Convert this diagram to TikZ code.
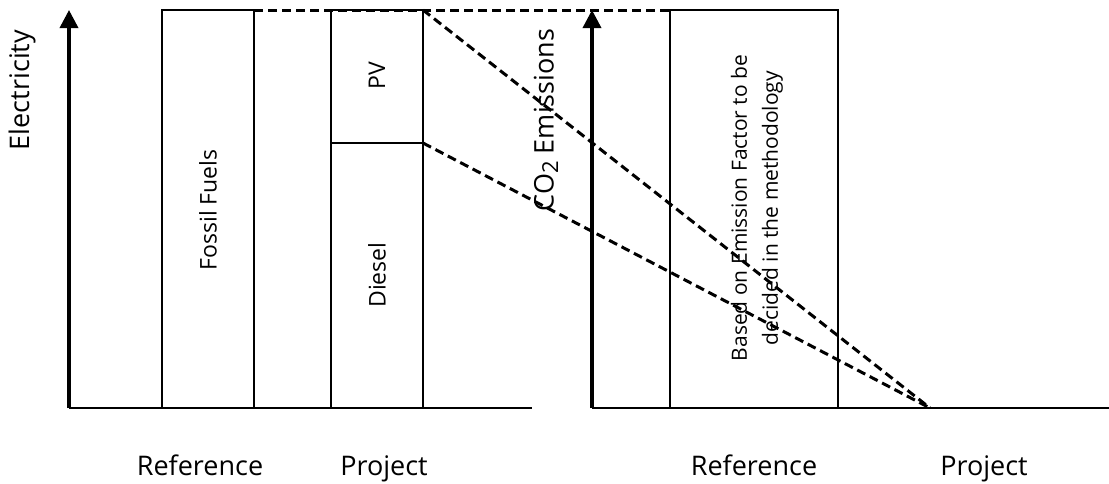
\documentclass[tikz,border=0pt]{standalone}
\usepackage{fontspec}
\setmainfont{Open Sans}
\usetikzlibrary{arrows.meta}
\tikzset{
  axisarrow/.style={line width=3.5pt,-{Triangle[width=18pt,length=18pt]}},
  baseline axis/.style={line width=2pt},
  barbox/.style={line width=2pt},
  dashline/.style={line width=3pt,dash pattern=on 9pt off 5pt},
  biglabel/.style={font=\fontsize{27}{32}\selectfont,inner sep=0pt},
  boxlabel/.style={font=\fontsize{23}{28}\selectfont,inner sep=0pt,rotate=90},
  notelabel/.style={font=\fontsize{21}{31}\selectfont,inner sep=0pt,rotate=90,align=center},
}
\begin{document}
\begin{tikzpicture}[x=1pt,y=-1pt]
\useasboundingbox (0,0) rectangle (1109,483);
% axes
\coordinate (o1) at (69,408);
\coordinate (t1) at (69,10);
\coordinate (e1) at (532,408);
\coordinate (o2) at (592,408);
\coordinate (t2) at (592,10);
\coordinate (e2) at (1109,408);
\draw[baseline axis] (o1) -- (e1);
\draw[baseline axis] (o2) -- (e2);
% boxes
\draw[barbox] (162,10) rectangle (254,408);
\draw[barbox] (331,10) rectangle (423,408);
\draw[barbox] (331,143) -- (423,143);
\draw[barbox] (670,10) rectangle (838,408);
\coordinate (ffTR) at (254,10);
\coordinate (pvTR) at (423,10);
\coordinate (dsTR) at (423,143);
\coordinate (refTL) at (670,10);
\coordinate (conv) at (930,408);
% dashed connectors
\draw[dashline] (ffTR) -- (refTL);
\draw[dashline] (pvTR) -- (conv);
\draw[dashline] (dsTR) -- (conv);
\draw[axisarrow] (o1) -- (t1);
\draw[axisarrow] (o2) -- (t2);
% labels
\node[biglabel,rotate=90] (elec) at (22,90) {Electricity};
\node[biglabel,rotate=90] (co2) at (546,120) {CO\raisebox{-0.3ex}{\fontsize{22}{26}\selectfont 2} Emissions};
\node[boxlabel] (fossil) at (208,210) {Fossil Fuels};
\node[boxlabel] (pv) at (377,76) {PV};
\node[boxlabel] (diesel) at (377,275) {Diesel};
\node[notelabel] (note) at (757,208) {Based on Emission Factor to be\\decided in the methodology};
\node[biglabel,anchor=base] (ref1) at (200,475) {Reference};
\node[biglabel,anchor=base] (proj1) at (384,475) {Project};
\node[biglabel,anchor=base] (ref2) at (754,475) {Reference};
\node[biglabel,anchor=base] (proj2) at (984,475) {Project};
\end{tikzpicture}
\end{document}
